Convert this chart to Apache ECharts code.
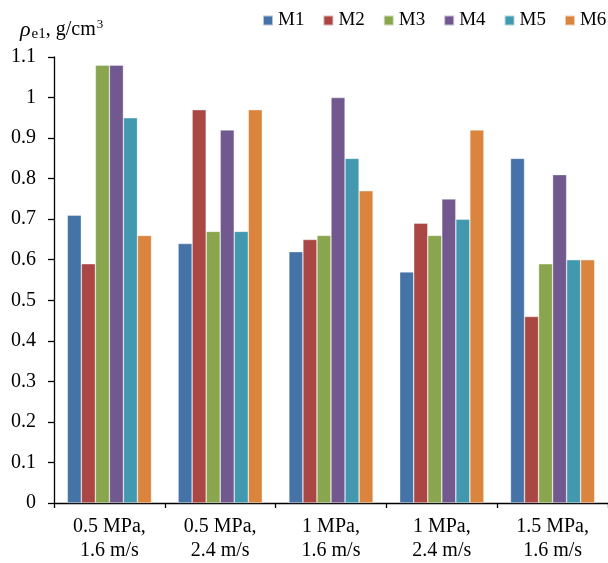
<!DOCTYPE html>
<html>
<head>
<meta charset="utf-8">
<script src="https://cdn.jsdelivr.net/npm/echarts@6/dist/echarts.min.js"></script>
<style>html,body{margin:0;padding:0;background:#fff}#c{width:608px;height:563px}</style>
</head>
<body>
<div id="c"></div>
<script>
const categories = ['0.5 MPa,\n1.6 m/s', '0.5 MPa,\n2.4 m/s', '1 MPa,\n1.6 m/s', '1 MPa,\n2.4 m/s', '1.5 MPa,\n1.6 m/s'];
const seriesNames = ['M1', 'M2', 'M3', 'M4', 'M5', 'M6'];
const M1 = [0.71, 0.64, 0.62, 0.57, 0.85];
const M2 = [0.59, 0.97, 0.65, 0.69, 0.46];
const M3 = [1.08, 0.67, 0.66, 0.66, 0.59];
const M4 = [1.08, 0.92, 1.00, 0.75, 0.81];
const M5 = [0.95, 0.67, 0.85, 0.70, 0.60];
const M6 = [0.66, 0.97, 0.77, 0.92, 0.60];
const seriesValues = [M1, M2, M3, M4, M5, M6];
const colors = ['#4572A7', '#AA4643', '#89A54E', '#71588F', '#4198AF', '#DB843D'];

const font = '"Liberation Serif", "Times New Roman", serif';
const chart = echarts.init(document.getElementById('c'), null, {renderer: 'canvas'});
chart.setOption({
  animation: false,
  color: colors,
  textStyle: {fontFamily: font, color: '#000'},
  title: {
    text: '{r|ρ}{s|e1}{n|, g/cm}{p|3}',
    left: 15, top: 13,
    textStyle: {
      fontWeight: 'normal',
      rich: {
        r: {fontFamily: font, fontStyle: 'italic', fontWeight: 'normal', fontSize: 22, color: '#000'},
        s: {fontFamily: font, fontWeight: 'normal', fontSize: 15, color: '#000', verticalAlign: 'bottom', padding: [9, 0, 0, 1]},
        n: {fontFamily: font, fontWeight: 'normal', fontSize: 20, color: '#000'},
        p: {fontFamily: font, fontWeight: 'normal', fontSize: 13, color: '#000', verticalAlign: 'top', padding: [0, 0, 9, 1]}
      }
    }
  },
  legend: {
    data: seriesNames,
    left: 262, top: 11, width: 400, padding: 0,
    itemWidth: 10, itemHeight: 10, itemGap: 18,
    icon: 'rect',
    textStyle: {fontFamily: font, fontSize: 19, color: '#000'}
  },
  grid: {left: 54, top: 57, width: 559, height: 446, containLabel: false},
  xAxis: {
    type: 'category',
    data: categories,
    axisLine: {lineStyle: {color: '#000', width: 1.3}},
    axisTick: {show: true, length: 5, lineStyle: {color: '#000', width: 1.3}},
    axisLabel: {fontFamily: font, fontSize: 20, color: '#000', margin: 12, lineHeight: 24, interval: 0}
  },
  yAxis: {
    type: 'value',
    min: 0, max: 1.1, interval: 0.1,
    splitLine: {show: false},
    axisLine: {show: true, lineStyle: {color: '#000', width: 1.3}},
    axisTick: {show: true, length: 6, lineStyle: {color: '#000', width: 1.3}},
    axisLabel: {fontFamily: font, fontSize: 20, color: '#000', margin: 18,
      formatter: v => String(+v.toFixed(1))}
  },
  series: seriesNames.map((n, i) => ({
    name: n,
    type: 'bar',
    data: seriesValues[i],
    barGap: '0%',
    barCategoryGap: '24%',
    itemStyle: {borderColor: 'rgba(255,255,255,0.6)', borderWidth: 0.6}
  }))
});
</script>
</body>
</html>
